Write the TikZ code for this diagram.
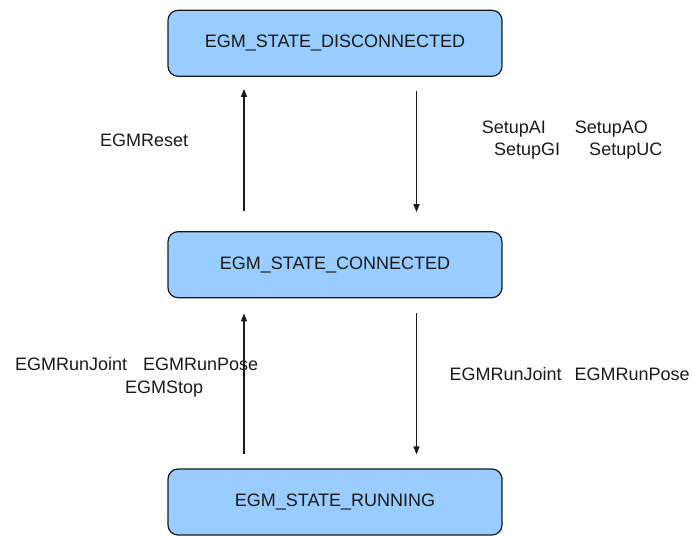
\documentclass[tikz,border=0pt]{standalone}
\usepackage{fontspec}
\setmainfont{Liberation Sans}
\usetikzlibrary{arrows.meta}
\definecolor{stateblue}{HTML}{99CCFF}
\definecolor{ink}{HTML}{1A1A1A}
\begin{document}
\begin{tikzpicture}[x=1pt,y=-1pt,
  state/.style={draw=ink, line width=1.2pt, fill=stateblue, rounded corners=10pt,
    minimum width=334pt, minimum height=66pt, inner sep=0pt,
    font=\fontsize{18}{20}\selectfont, text=ink},
  lbl/.style={inner sep=0pt, anchor=base west, font=\fontsize{18}{20}\selectfont, text=ink},
  trans/.style={line width=1.2pt, draw=ink, -{Triangle[length=8pt,width=6pt]}}]
  \useasboundingbox (0,0) rectangle (694,536);

  % states
  \node[state] (disc) at (335,43.3) {EGM\_STATE\_DISCONNECTED};
  \node[state] (conn) at (335,264.7) {EGM\_STATE\_CONNECTED};
  \node[state] (run)  at (335,502)   {EGM\_STATE\_RUNNING};

  % transition labels
  \node[lbl] (reset)  at (100,146)   {EGMReset};
  \node[lbl] (setupa) at (481.7,133) {SetupAI\hspace{29pt}SetupAO};
  \node[lbl] (setupb) at (494,155)   {SetupGI\hspace{29pt}SetupUC};
  \node[lbl] (runla)  at (15,370.7)  {EGMRunJoint\hspace{16pt}EGMRunPose};
  \node[lbl] (runlb)  at (125,393)   {EGMStop};
  \node[lbl] (runr)   at (449.3,380) {EGMRunJoint\hspace{13pt}EGMRunPose};

  % transitions
  \coordinate (lx) at (244,0);
  \coordinate (rx) at (416.5,0);
  \draw[trans] ([yshift=20pt]conn.north -| lx) -- ([yshift=-12pt]disc.south -| lx);
  \draw[trans] ([yshift=-14pt]disc.south -| rx) -- ([yshift=19pt]conn.north -| rx);
  \draw[trans] ([yshift=14pt]run.north -| lx) -- ([yshift=-15pt]conn.south -| lx);
  \draw[trans] ([yshift=-15pt]conn.south -| rx) -- ([yshift=14pt]run.north -| rx);
\end{tikzpicture}
\end{document}
